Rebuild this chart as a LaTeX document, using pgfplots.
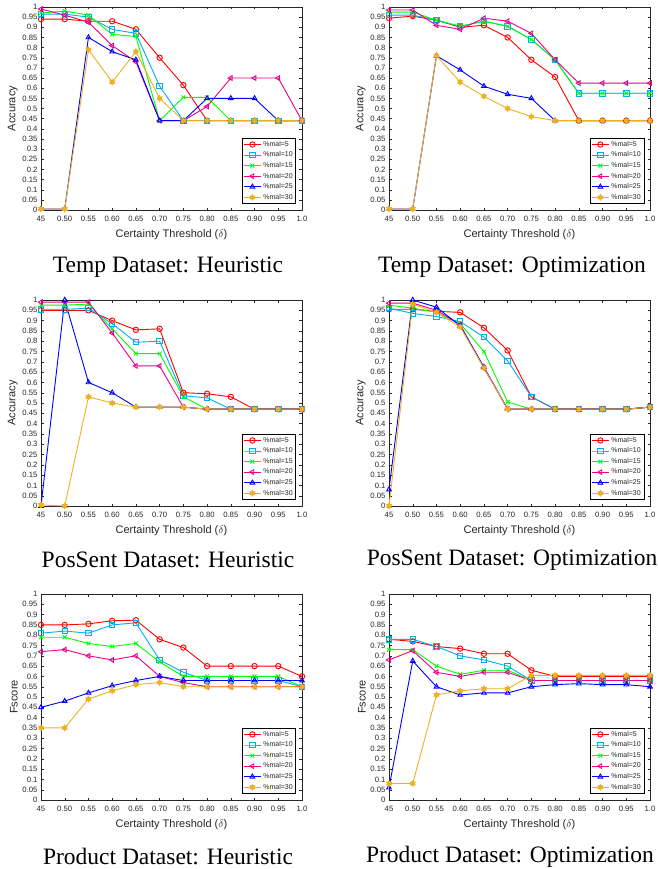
\documentclass[border=0pt]{standalone}
\usepackage{fontspec}
\setmainfont{Liberation Serif}
\newfontfamily\hv{Liberation Sans}
\usepackage{pgfplots}
\usepackage{pgfplotstable}
\pgfplotsset{compat=1.18}

\definecolor{morange}{rgb}{0.929,0.694,0.125}

% MATLAB-like hexagram marker
\pgfdeclareplotmark{hexagram}{%
  \pgfpathmoveto{\pgfpointpolar{90}{\pgfplotmarksize}}%
  \pgfpathlineto{\pgfpointpolar{210}{\pgfplotmarksize}}%
  \pgfpathlineto{\pgfpointpolar{330}{\pgfplotmarksize}}%
  \pgfpathclose
  \pgfpathmoveto{\pgfpointpolar{270}{\pgfplotmarksize}}%
  \pgfpathlineto{\pgfpointpolar{30}{\pgfplotmarksize}}%
  \pgfpathlineto{\pgfpointpolar{150}{\pgfplotmarksize}}%
  \pgfpathclose
  \pgfusepathqfillstroke}

% columns: threshold, %mal = 5 10 15 20 25 30
\pgfplotstableread{
x    m5    m10   m15   m20   m25   m30
0.45 0.94  0.965 0.97  0.99  0.005 0.005
0.50 0.94  0.965 0.98  0.96  0.005 0.005
0.55 0.93  0.95  0.96  0.925 0.85  0.79
0.60 0.93  0.89  0.865 0.81  0.78  0.63
0.65 0.89  0.87  0.855 0.73  0.74  0.78
0.70 0.75  0.61  0.44  0.44  0.44  0.55
0.75 0.615 0.44  0.555 0.44  0.44  0.44
0.80 0.44  0.44  0.555 0.51  0.55  0.44
0.85 0.44  0.44  0.44  0.65  0.55  0.44
0.90 0.44  0.44  0.44  0.65  0.55  0.44
0.95 0.44  0.44  0.44  0.65  0.44  0.44
1.00 0.44  0.44  0.44  0.44  0.44  0.44
}\tempheur

\pgfplotstableread{
x    m5    m10   m15   m20   m25   m30
0.45 0.945 0.96  0.975 0.985 0.005 0.005
0.50 0.955 0.96  0.975 0.985 0.005 0.005
0.55 0.935 0.935 0.935 0.91  0.76  0.76
0.60 0.90  0.905 0.905 0.89  0.69  0.63
0.65 0.91  0.93  0.93  0.945 0.61  0.56
0.70 0.85  0.905 0.905 0.93  0.57  0.50
0.75 0.74  0.84  0.84  0.87  0.55  0.46
0.80 0.655 0.74  0.74  0.74  0.44  0.44
0.85 0.44  0.575 0.575 0.625 0.44  0.44
0.90 0.44  0.575 0.575 0.625 0.44  0.44
0.95 0.44  0.575 0.575 0.625 0.44  0.44
1.00 0.44  0.575 0.575 0.625 0.44  0.44
}\tempopt

\pgfplotstableread{
x    m5    m10   m15   m20   m25   m30
0.45 0.95  0.955 0.975 0.99  0.0   0.005
0.50 0.95  0.955 0.975 0.99  1.0   0.0
0.55 0.95  0.96  0.98  0.99  0.60  0.53
0.60 0.90  0.885 0.86  0.84  0.55  0.50
0.65 0.855 0.795 0.74  0.68  0.48  0.48
0.70 0.86  0.80  0.74  0.68  0.48  0.48
0.75 0.55  0.535 0.53  0.48  0.48  0.48
0.80 0.545 0.525 0.47  0.47  0.47  0.47
0.85 0.53  0.47  0.47  0.47  0.47  0.47
0.90 0.47  0.47  0.47  0.47  0.47  0.47
0.95 0.47  0.47  0.47  0.47  0.47  0.47
1.00 0.47  0.47  0.47  0.47  0.47  0.47
}\posheur

\pgfplotstableread{
x    m5    m10   m15   m20   m25   m30
0.45 0.955 0.96  0.975 0.985 0.08  0.0
0.50 0.955 0.935 0.96  0.985 1.0   0.98
0.55 0.945 0.92  0.94  0.95  0.965 0.94
0.60 0.94  0.895 0.885 0.88  0.875 0.87
0.65 0.865 0.82  0.75  0.67  0.675 0.67
0.70 0.755 0.705 0.505 0.47  0.47  0.47
0.75 0.53  0.53  0.47  0.47  0.47  0.47
0.80 0.47  0.47  0.47  0.47  0.47  0.47
0.85 0.47  0.47  0.47  0.47  0.47  0.47
0.90 0.47  0.47  0.47  0.47  0.47  0.47
0.95 0.47  0.47  0.47  0.47  0.47  0.47
1.00 0.48  0.48  0.48  0.48  0.48  0.48
}\posopt

\pgfplotstableread{
x    m5    m10   m15   m20   m25   m30
0.45 0.85  0.81  0.79  0.72  0.45  0.35
0.50 0.85  0.82  0.79  0.73  0.48  0.35
0.55 0.855 0.81  0.76  0.70  0.52  0.49
0.60 0.87  0.85  0.745 0.68  0.555 0.53
0.65 0.873 0.86  0.76  0.70  0.58  0.56
0.70 0.78  0.68  0.67  0.60  0.60  0.57
0.75 0.74  0.62  0.60  0.57  0.58  0.55
0.80 0.65  0.58  0.60  0.55  0.58  0.55
0.85 0.65  0.58  0.60  0.55  0.58  0.55
0.90 0.65  0.58  0.60  0.55  0.58  0.55
0.95 0.65  0.58  0.60  0.55  0.58  0.55
1.00 0.60  0.55  0.55  0.55  0.58  0.55
}\prodheur

\pgfplotstableread{
x    m5    m10   m15   m20   m25   m30
0.45 0.78  0.78  0.73  0.68  0.06  0.08
0.50 0.77  0.78  0.73  0.725 0.675 0.08
0.55 0.745 0.745 0.65  0.62  0.55  0.51
0.60 0.735 0.70  0.61  0.60  0.51  0.53
0.65 0.71  0.68  0.63  0.62  0.52  0.54
0.70 0.71  0.65  0.63  0.62  0.52  0.54
0.75 0.63  0.58  0.58  0.58  0.55  0.605
0.80 0.60  0.58  0.58  0.58  0.56  0.605
0.85 0.60  0.58  0.58  0.58  0.565 0.605
0.90 0.60  0.58  0.58  0.58  0.56  0.605
0.95 0.60  0.58  0.58  0.58  0.56  0.605
1.00 0.60  0.58  0.58  0.58  0.55  0.605
}\prodopt

\pgfplotsset{
  panel/.style={
    scale only axis, anchor=south west,
    width=261pt,
    xmin=0.45, xmax=1.0, ymin=0, ymax=1,
    xtick={0.45,0.5,0.55,0.6,0.65,0.7,0.75,0.8,0.85,0.9,0.95,1.0},
    xticklabels={45,0.50,0.55,0.60,0.65,0.70,0.75,0.80,0.85,0.90,0.95,1.0},
    ytick={0,0.05,0.1,0.15,0.2,0.25,0.3,0.35,0.4,0.45,0.5,0.55,0.6,0.65,0.7,0.75,0.8,0.85,0.9,0.95,1},
    yticklabels={0,0.05,0.1,0.15,0.2,0.25,0.3,0.35,0.4,0.45,0.5,0.55,0.6,0.65,0.7,0.75,0.8,0.85,0.9,0.95,1},
    tick align=inside, major tick length=2.5pt,
    tick style={black!85, line width=0.4pt},
    axis line style={black!85, line width=0.5pt},
    tick label style={font=\hv\fontsize{7.7}{8}\selectfont, text=black!85},
    xticklabel style={yshift=-3pt},
    label style={font=\hv\fontsize{11}{12}\selectfont, text=black!85},
    xlabel={Certainty Threshold ($\delta$)},
    xlabel style={yshift=-1pt},
    ylabel style={yshift=-2pt},
    legend style={at={(0.977,0.03)}, anchor=south east,
      font=\hv\fontsize{7}{7.5}\selectfont, draw=black, line width=0.5pt,
      inner sep=1pt, text=black!85},
    legend cell align=left,
    every axis plot/.append style={line width=0.9pt, mark size=2.7pt},
    every mark/.append style={solid, line width=0.7pt},
  },
  s5/.style={color=red, mark=o},
  s10/.style={color=cyan, mark=square},
  s15/.style={color=green, mark=x},
  s20/.style={color=magenta, mark=triangle, mark options={rotate=90}},
  s25/.style={color=blue, mark=triangle},
  s30/.style={color=morange, mark=hexagram},
}

\newcommand{\sixplots}[1]{%
  \addplot[s5]  table[x=x,y=m5]  {#1};
  \addplot[s10] table[x=x,y=m10] {#1};
  \addplot[s15] table[x=x,y=m15] {#1};
  \addplot[s20] table[x=x,y=m20] {#1};
  \addplot[s25] table[x=x,y=m25] {#1};
  \addplot[s30] table[x=x,y=m30] {#1};
  \legend{\%mal=5,\%mal=10,\%mal=15,\%mal=20,\%mal=25,\%mal=30}
}

\begin{document}
\begin{tikzpicture}[x=1pt,y=1pt]
\useasboundingbox (0,0) rectangle (657,-869);

% row 1
\begin{axis}[panel, at={(41pt,-210pt)}, height=203pt, ylabel={Accuracy}]
\sixplots{\tempheur}
\end{axis}
\begin{axis}[panel, at={(389pt,-210pt)}, height=203pt, ylabel={Accuracy}]
\sixplots{\tempopt}
\end{axis}

% row 2
\begin{axis}[panel, at={(41pt,-506pt)}, height=206pt, ylabel={Accuracy}]
\sixplots{\posheur}
\end{axis}
\begin{axis}[panel, at={(389pt,-506pt)}, height=206pt, ylabel={Accuracy}]
\sixplots{\posopt}
\end{axis}

% row 3
\begin{axis}[panel, at={(41pt,-800pt)}, height=206pt, ylabel={Fscore}]
\sixplots{\prodheur}
\end{axis}
\begin{axis}[panel, at={(389pt,-800pt)}, height=206pt, ylabel={Fscore}]
\sixplots{\prodopt}
\end{axis}

\tikzset{captxt/.style={font=\fontsize{23.5}{26}\selectfont}}
\node[captxt] at (168,-267) {Temp Dataset: Heuristic};
\node[captxt] at (512,-267) {Temp Dataset: Optimization};
\node[captxt] at (168,-560) {PosSent Dataset: Heuristic};
\node[captxt] at (512,-560) {PosSent Dataset: Optimization};
\node[captxt] at (168,-857) {Product Dataset: Heuristic};
\node[captxt] at (510,-857) {Product Dataset: Optimization};
\end{tikzpicture}
\end{document}
